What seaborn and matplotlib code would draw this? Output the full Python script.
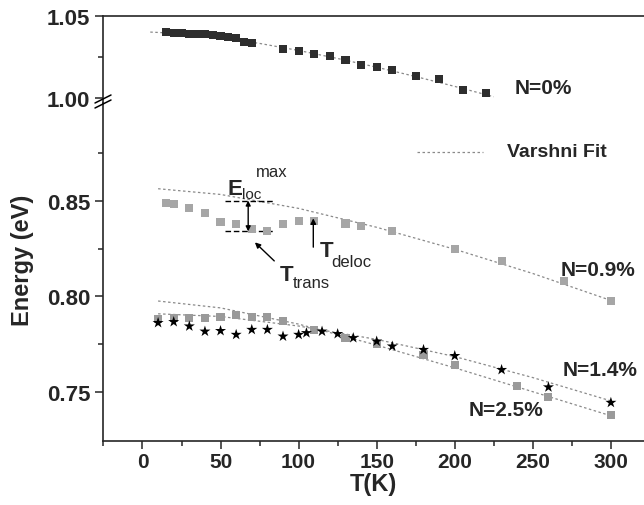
import numpy as np
import pandas as pd
import seaborn as sns
import matplotlib.pyplot as plt

sns.set_style("ticks")
plt.rcParams['font.family'] = ['Liberation Sans', 'DejaVu Sans']
plt.rcParams['font.weight'] = 'bold'

# N = 0 %
T0 = [15, 20, 25, 30, 35, 40, 45, 50, 55, 60, 65, 70, 90, 100, 110, 120, 130,
      140, 150, 160, 175, 190, 205, 220]
E0 = [1.0402, 1.0398, 1.0395, 1.0392, 1.0390, 1.0388, 1.0384, 1.0378, 1.0372,
      1.0368, 1.0340, 1.0336, 1.0299, 1.0288, 1.0268, 1.0256, 1.0232, 1.0203,
      1.0187, 1.0169, 1.0132, 1.0116, 1.0049, 1.0029]
fitT0 = [5, 25, 50, 75, 100, 125, 150, 175, 200, 225]
fitE0 = [1.0402, 1.0393, 1.0368, 1.0333, 1.0290, 1.0241, 1.0188, 1.0131, 1.0071, 1.0008]

# N = 0.9 %
T09 = [15, 20, 30, 40, 50, 60, 70, 80, 90, 100, 110, 130, 140, 160, 200, 230, 270, 300]
E09 = [0.8490, 0.8484, 0.8463, 0.8437, 0.8391, 0.8379, 0.8353, 0.8344, 0.8379,
       0.8393, 0.8393, 0.8382, 0.8370, 0.8344, 0.8250, 0.8185, 0.8080, 0.7975]
fitT09 = [10, 50, 100, 150, 200, 250, 300]
fitE09 = [0.8564, 0.8534, 0.8461, 0.8362, 0.8247, 0.8120, 0.7979]

# N = 1.4 %
T14 = [10, 20, 30, 40, 50, 60, 70, 80, 90, 100, 105, 115, 125, 135, 150, 160,
       180, 200, 230, 260, 300]
E14 = [0.7862, 0.7867, 0.7844, 0.7817, 0.7820, 0.7800, 0.7826, 0.7826, 0.7791,
       0.7800, 0.7809, 0.7817, 0.7804, 0.7783, 0.7765, 0.7739, 0.7721, 0.7689,
       0.7616, 0.7525, 0.7444]
fitT14 = [10, 50, 100, 150, 200, 250, 300]
fitE14 = [0.7909, 0.7895, 0.7845, 0.7775, 0.7685, 0.7575, 0.7453]

# N = 2.5 %
T25 = [10, 20, 30, 40, 50, 60, 70, 80, 90, 110, 130, 150, 180, 200, 240, 260, 300]
E25 = [0.7884, 0.7888, 0.7888, 0.7888, 0.7893, 0.7902, 0.7891, 0.7893, 0.7870,
       0.7826, 0.7782, 0.7753, 0.7695, 0.7642, 0.7532, 0.7475, 0.7379]
fitT25 = [10, 50, 100, 150, 200, 250, 300]
fitE25 = [0.7976, 0.7940, 0.7855, 0.7745, 0.7626, 0.7501, 0.7375]

fig = plt.figure(figsize=(6.44, 5.06), dpi=100)
ax_top = fig.add_axes([0.1599, 0.7945, 0.8401, 0.1719])
ax_bot = fig.add_axes([0.1599, 0.1265, 0.8401, 0.6680])

fit_kw = dict(color='#8a8a8a', lw=0.9, linestyle=(0, (2, 2)))

sns.lineplot(x=fitT0, y=fitE0, ax=ax_top, **fit_kw)
sns.scatterplot(x=T0, y=E0, ax=ax_top, marker='s', color='#2e2e2e', s=34,
                edgecolor='none', zorder=3)

for ft, fe in [(fitT09, fitE09), (fitT14, fitE14), (fitT25, fitE25)]:
    sns.lineplot(x=ft, y=fe, ax=ax_bot, **fit_kw)
sns.scatterplot(x=T09, y=E09, ax=ax_bot, marker='s', color='#a6a6a6', s=34,
                edgecolor='none', zorder=3)
sns.scatterplot(x=T25, y=E25, ax=ax_bot, marker='s', color='#9a9a9a', s=34,
                edgecolor='none', zorder=3)
sns.scatterplot(x=T14, y=E14, ax=ax_bot, marker='*', color='black', s=70,
                edgecolor='none', zorder=4)

xlim = (-25.3, 321.2)
for ax in (ax_top, ax_bot):
    ax.set_xlim(*xlim)
    for side in ['left', 'top', 'bottom', 'right']:
        ax.spines[side].set_linewidth(1.2)
    ax.spines['right'].set_visible(False)
    ax.tick_params(which='major', direction='out', length=6, width=1.1,
                   labelsize=15, pad=2)
    ax.tick_params(axis='y', which='major', labelsize=16, pad=3)
    ax.tick_params(which='minor', direction='out', length=3.5, width=1.1)

ax_top.set_ylim(0.997, 1.05)
ax_top.spines['bottom'].set_visible(False)
ax_top.set_yticks([1.00, 1.05])
ax_top.set_yticks([1.025], minor=True)
ax_top.set_yticklabels(['1.00', '1.05'])
ax_top.tick_params(axis='x', which='both', bottom=False, labelbottom=False)
ax_top.set_xlabel('')

ax_bot.set_ylim(0.7243, 0.9013)
ax_bot.spines['top'].set_visible(False)
ax_bot.set_yticks([0.75, 0.80, 0.85])
ax_bot.set_yticks([0.775, 0.825, 0.875], minor=True)
ax_bot.set_yticklabels(['0.75', '0.80', '0.85'])
ax_bot.set_xticks([0, 50, 100, 150, 200, 250, 300])
ax_bot.set_xticks([-25, 25, 75, 125, 175, 225, 275], minor=True)
ax_bot.set_xlabel('T(K)', fontsize=17, fontweight='bold', labelpad=1)
ax_bot.set_ylabel('')
for lab in ax_top.get_yticklabels() + ax_bot.get_yticklabels() + ax_bot.get_xticklabels():
    lab.set_fontweight('bold')

fig.text(22 / 644, 1 - 260 / 506, 'Energy (eV)', rotation=90, fontsize=17,
         fontweight='bold', ha='center', va='center')

# axis break marks
for dy in (0, 5):
    fig.add_artist(plt.Line2D([95 / 644, 111 / 644],
                              [1 - (104 + dy) / 506, 1 - (96 + dy) / 506],
                              color='black', lw=1.1, transform=fig.transFigure))

# labels
ax_top.text(256.8, 1.0067, 'N=0%', fontsize=15, fontweight='bold', ha='center', va='center')
ax_bot.text(291.7, 0.8142, 'N=0.9%', fontsize=15, fontweight='bold', ha='center', va='center')
ax_bot.text(293, 0.7616, 'N=1.4%', fontsize=15, fontweight='bold', ha='center', va='center')
ax_bot.text(232.8, 0.7408, 'N=2.5%', fontsize=15, fontweight='bold', ha='center', va='center')

# legend
ax_bot.plot([175.8, 218], [0.8755, 0.8755], **fit_kw)
ax_bot.text(233.4, 0.8757, 'Varshni Fit', fontsize=14, fontweight='bold', ha='left', va='center')

# E_loc^max annotation
ax_bot.plot([52.8, 83.6], [0.8502, 0.8502], color='black', lw=1, linestyle=(0, (4, 2)))
ax_bot.plot([52.8, 83.6], [0.8341, 0.8341], color='black', lw=1, linestyle=(0, (4, 2)))
ax_bot.annotate('', xy=(67.7, 0.8502), xytext=(67.7, 0.8341),
                arrowprops=dict(arrowstyle='<|-|>', color='black', lw=1,
                                mutation_scale=7, shrinkA=0, shrinkB=0))
ax_bot.text(59.2, 0.8563, 'E', fontsize=16, fontweight='bold', ha='center', va='center')
ax_bot.text(69.8, 0.8537, 'loc', fontsize=11, fontweight='normal', ha='center', va='center')
ax_bot.text(82.9, 0.8653, 'max', fontsize=12, fontweight='normal', ha='center', va='center')

# T_trans
ax_bot.annotate('', xy=(72, 0.8283), xytext=(84.4, 0.8186),
                arrowprops=dict(arrowstyle='-|>', color='black', lw=1,
                                mutation_scale=8, shrinkA=0, shrinkB=0))
ax_bot.text(92.2, 0.8116, 'T', fontsize=16, fontweight='bold', ha='center', va='center')
ax_bot.text(108.2, 0.8074, 'trans', fontsize=12, fontweight='normal', ha='center', va='center')

# T_deloc
ax_bot.annotate('', xy=(109.4, 0.8409), xytext=(109.4, 0.8258),
                arrowprops=dict(arrowstyle='-|>', color='black', lw=1,
                                mutation_scale=8, shrinkA=0, shrinkB=0))
ax_bot.text(117.8, 0.8242, 'T', fontsize=16, fontweight='bold', ha='center', va='center')
ax_bot.text(133.8, 0.8184, 'deloc', fontsize=12, fontweight='normal', ha='center', va='center')

fig.savefig('out.png', dpi=100)
